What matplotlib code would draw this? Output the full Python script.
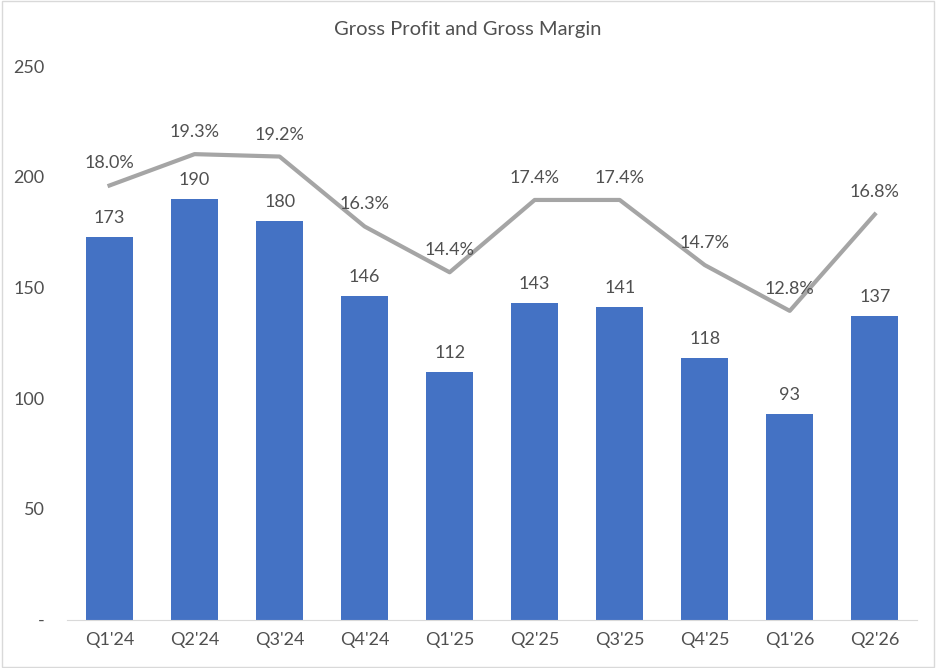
import matplotlib.pyplot as plt
from matplotlib.patches import Rectangle

# Data
quarters = ["Q1'24", "Q2'24", "Q3'24", "Q4'24", "Q1'25",
            "Q2'25", "Q3'25", "Q4'25", "Q1'26", "Q2'26"]
gross_profit = [173, 190, 180, 146, 112, 143, 141, 118, 93, 137]
gross_margin = [18.0, 19.3, 19.2, 16.3, 14.4, 17.4, 17.4, 14.7, 12.8, 16.8]

plt.rcParams['font.family'] = ['Lato', 'DejaVu Sans']
text_color = '#505050'

fig = plt.figure(figsize=(9.36, 6.68), dpi=100)
ax = fig.add_axes([0.0716, 0.0726, 0.9084, 0.8284])

x = list(range(len(quarters)))
ax.bar(x, gross_profit, width=0.55, color='#4472C4', zorder=2)
for xi, v in zip(x, gross_profit):
    ax.annotate(str(v), (xi, v), xytext=(0, 19), textcoords='offset pixels',
                ha='center', va='center', fontsize=13, color=text_color)

ax.set_xlim(-0.5, len(quarters) - 0.5)
ax.set_ylim(0, 250)
ax.set_yticks([0, 50, 100, 150, 200, 250])
ax.set_yticklabels(['-', '50', '100', '150', '200', '250'])
ax.set_xticks(x)
ax.set_xticklabels(quarters)
ax.tick_params(axis='both', length=0, labelsize=13, colors=text_color)
ax.tick_params(axis='y', pad=16)
ax.tick_params(axis='x', pad=9)
for side in ['top', 'right', 'left']:
    ax.spines[side].set_visible(False)
ax.spines['bottom'].set_color('#D9D9D9')

# Secondary axis for margin line
ax2 = ax.twinx()
ax2.plot(x, gross_margin, color='#A5A5A5', linewidth=3, zorder=3)
for xi, v in zip(x, gross_margin):
    ax2.annotate('{:.1f}%'.format(v), (xi, v), xytext=(0, 22), textcoords='offset pixels',
                 ha='center', va='center', fontsize=13, color=text_color)
ax2.set_ylim(0, 22.95)
ax2.axis('off')

fig.text(0.5, 1 - 30 / 668, 'Gross Profit and Gross Margin', ha='center', va='center',
         fontsize=14.5, color=text_color)

# Chart border
fig.patches.append(Rectangle((0.002, 0.002), 0.996, 0.996, transform=fig.transFigure,
                             fill=False, edgecolor='#D9D9D9', linewidth=1))

fig.savefig('out.png', dpi=100)
